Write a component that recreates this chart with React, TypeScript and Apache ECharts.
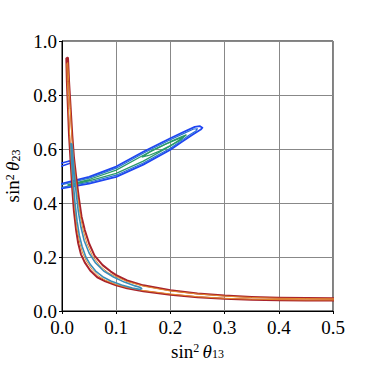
import React, { useEffect, useRef } from "react";
import * as echarts from "echarts";

// x = sin^2 theta13, y = sin^2 theta23
const xTicks = [0, 0.1, 0.2, 0.3, 0.4, 0.5];
const yTicks = [0, 0.2, 0.4, 0.6, 0.8, 1.0];

const blueOuter: number[][] = [
  [-0.02, 0.462], [0, 0.472], [0.05, 0.497], [0.1, 0.535], [0.15, 0.59], [0.2, 0.64],
  [0.225, 0.664], [0.245, 0.682], [0.254, 0.685], [0.259, 0.679],
  [0.256, 0.672], [0.24, 0.652], [0.22, 0.625], [0.2, 0.597], [0.15, 0.542], [0.1, 0.497],
  [0.05, 0.472], [0, 0.454], [-0.02, 0.447], [-0.02, 0.462],
];
const blueInner: number[][] = [
  [-0.02, 0.458], [0, 0.468], [0.05, 0.492], [0.1, 0.529], [0.15, 0.584], [0.2, 0.634],
  [0.225, 0.658], [0.243, 0.674], [0.25, 0.675], [0.247, 0.667],
  [0.235, 0.652], [0.22, 0.631], [0.2, 0.603], [0.15, 0.548], [0.1, 0.503], [0.05, 0.477],
  [0, 0.458], [-0.02, 0.451], [-0.02, 0.458],
];
const greenBand: number[][] = [
  [0.01, 0.467], [0.05, 0.487], [0.1, 0.522], [0.15, 0.577], [0.2, 0.627], [0.22, 0.645],
  [0.229, 0.652], [0.224, 0.643], [0.2, 0.611], [0.15, 0.555], [0.1, 0.51], [0.05, 0.482],
  [0.013, 0.465], [0.01, 0.467],
];
const greenIsland: number[][] = [
  [0.147, 0.57], [0.165, 0.593], [0.19, 0.617], [0.21, 0.634], [0.224, 0.645], [0.219, 0.634],
  [0.2, 0.613], [0.18, 0.592], [0.16, 0.576], [0.147, 0.57],
];
const blueSliver: number[][] = [
  [-0.01, 0.531], [0, 0.537], [0.012, 0.545], [0.021, 0.552], [0.022, 0.557], [0.012, 0.555],
  [0, 0.548], [-0.01, 0.542], [-0.01, 0.531],
];

const redOuter: number[][] = [
  [0.011, 0.94], [0.013, 0.85], [0.016, 0.75], [0.019, 0.65], [0.022, 0.57], [0.026, 0.5],
  [0.031, 0.42], [0.036, 0.35], [0.042, 0.3], [0.05, 0.25], [0.06, 0.205], [0.075, 0.17],
  [0.09, 0.146], [0.1, 0.133], [0.12, 0.113], [0.15, 0.095], [0.2, 0.077], [0.25, 0.065],
  [0.3, 0.057], [0.35, 0.052], [0.4, 0.049], [0.45, 0.048], [0.52, 0.047],
  [0.52, 0.039], [0.45, 0.039], [0.4, 0.04], [0.35, 0.042], [0.3, 0.045], [0.25, 0.051],
  [0.2, 0.06], [0.15, 0.073], [0.12, 0.084], [0.1, 0.095], [0.08, 0.11], [0.065, 0.125],
  [0.052, 0.15], [0.042, 0.18], [0.035, 0.21], [0.03, 0.25], [0.026, 0.3], [0.022, 0.37],
  [0.019, 0.45], [0.016, 0.55], [0.013, 0.65], [0.011, 0.75], [0.009, 0.85], [0.008, 0.935],
  [0.011, 0.94],
];
const orangeMid: number[][] = [
  [0.0105, 0.92], [0.0125, 0.85], [0.0152, 0.75], [0.018, 0.65], [0.021, 0.57], [0.0245, 0.5],
  [0.029, 0.42], [0.034, 0.35], [0.039, 0.3], [0.046, 0.25], [0.056, 0.205], [0.07, 0.167],
  [0.085, 0.142], [0.1, 0.127], [0.12, 0.109], [0.15, 0.092], [0.2, 0.074], [0.25, 0.063],
  [0.3, 0.055], [0.35, 0.05], [0.4, 0.047], [0.45, 0.046], [0.52, 0.045],
  [0.52, 0.041], [0.45, 0.041], [0.4, 0.042], [0.35, 0.044], [0.3, 0.047], [0.25, 0.053],
  [0.2, 0.063], [0.15, 0.076], [0.12, 0.087], [0.1, 0.098], [0.08, 0.114], [0.067, 0.13],
  [0.055, 0.155], [0.045, 0.185], [0.038, 0.215], [0.033, 0.25], [0.028, 0.3], [0.024, 0.37],
  [0.0205, 0.45], [0.0172, 0.55], [0.0142, 0.65], [0.0118, 0.75], [0.0098, 0.85], [0.009, 0.915],
  [0.0105, 0.92],
];
const tealInner: number[][] = [
  [0.018, 0.62], [0.019, 0.6], [0.022, 0.52], [0.026, 0.44], [0.03, 0.37], [0.035, 0.31],
  [0.041, 0.26], [0.05, 0.215], [0.062, 0.178], [0.077, 0.148], [0.095, 0.126], [0.115, 0.107],
  [0.135, 0.093], [0.145, 0.087], [0.147, 0.083],
  [0.143, 0.08], [0.13, 0.085], [0.11, 0.096], [0.09, 0.111], [0.075, 0.127], [0.062, 0.148],
  [0.052, 0.173], [0.044, 0.2], [0.037, 0.24], [0.032, 0.28], [0.028, 0.33], [0.024, 0.4],
  [0.021, 0.47], [0.018, 0.55], [0.0165, 0.62], [0.018, 0.62],
];

const FONT = "Liberation Serif";

function contour(data: number[][], color: string, width: number) {
  return {
    type: "line",
    data,
    showSymbol: false,
    symbol: "none",
    clip: true,
    silent: true,
    lineStyle: { color, width, join: "round" },
  };
}

const nameRich = {
  n: { fontSize: 19, fontFamily: FONT, color: "#000", lineHeight: 18 },
  sup: { fontSize: 12, fontFamily: FONT, color: "#000", verticalAlign: "top", lineHeight: 12 },
  it: { fontSize: 19, fontFamily: FONT, fontStyle: "italic", color: "#000", lineHeight: 18 },
  sub: { fontSize: 12, fontFamily: FONT, color: "#000", verticalAlign: "bottom", lineHeight: 10 },
};

export default function App() {
  const ref = useRef<HTMLDivElement>(null);
  useEffect(() => {
    if (!ref.current) return;
    const chart = echarts.init(ref.current, undefined, { renderer: "svg" });
    const axisCommon = {
      type: "value",
      axisLine: { show: true, lineStyle: { color: "#000", width: 1 } },
      axisTick: { show: true, inside: false, length: 3, lineStyle: { color: "#000" } },
      splitLine: { show: true, lineStyle: { color: "#888", width: 1 } },
      nameLocation: "middle",
    };
    chart.setOption({
      animation: false,
      backgroundColor: "#fff",
      grid: {
        left: 62, right: 41, top: 41, bottom: 63,
        containLabel: false, outerBoundsMode: "none",
        show: true, borderColor: "#000", borderWidth: 1, backgroundColor: "transparent",
      },
      xAxis: {
        ...axisCommon,
        min: xTicks[0],
        max: xTicks[xTicks.length - 1],
        interval: 0.1,
        axisLabel: { color: "#000", fontSize: 19, fontFamily: FONT, margin: 7, formatter: (v: number) => v.toFixed(1) },
        name: "{n|sin}{sup|2} {it|θ}{sub|13}",
        nameGap: 24,
        nameTextStyle: { rich: nameRich },
      },
      yAxis: {
        ...axisCommon,
        min: yTicks[0],
        max: yTicks[yTicks.length - 1],
        interval: 0.2,
        axisLabel: { color: "#000", fontSize: 19, fontFamily: FONT, margin: 5, formatter: (v: number) => v.toFixed(1) },
        name: "{n|sin}{sup|2} {it|θ}{sub|23}",
        nameGap: 39,
        nameTextStyle: { rich: nameRich },
      },
      series: [
        contour(blueOuter, "#1f45f2", 1.8),
        contour(blueInner, "#2a6fd6", 1.2),
        contour(greenBand, "#2b9a6a", 1.3),
        contour(greenIsland, "#2b9a6a", 1.3),
        contour(blueSliver, "#1f45f2", 1.6),
        contour(redOuter, "#a9232b", 2),
        contour(orangeMid, "#e38a2e", 1),
        contour(tealInner, "#3b8db6", 1.6),
      ],
    });
    return () => chart.dispose();
  }, []);
  return <div ref={ref} style={{ position: "fixed", left: 0, top: 0, width: 374, height: 374 }} />;
}
